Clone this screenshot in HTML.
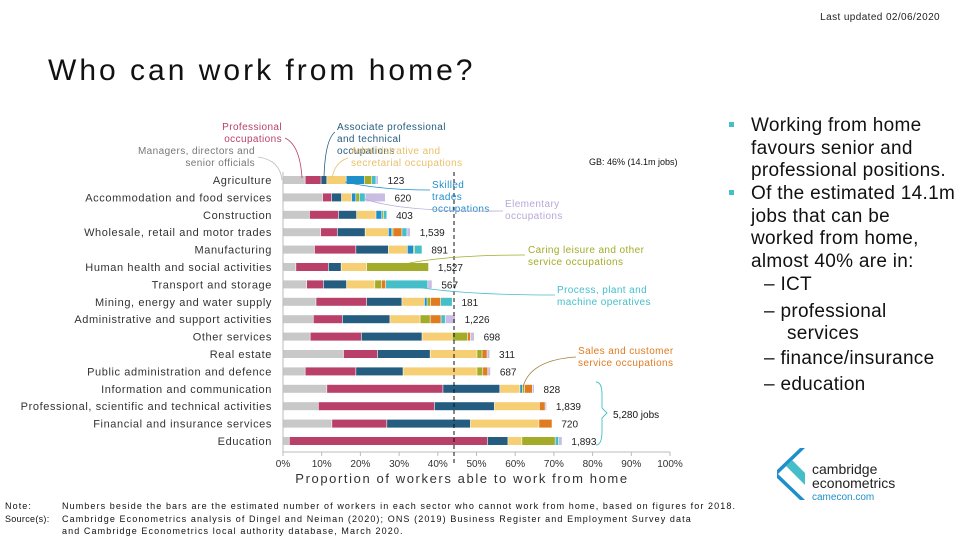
<!DOCTYPE html>
<html><head><meta charset="utf-8"><style>
body{margin:0;background:#fff;}
svg{display:block;font-family:"Liberation Sans",sans-serif;}
</style></head><body>
<svg id="chart" width="960" height="540" viewBox="0 0 960 540">
<text x="940" y="20" font-size="10" text-anchor="end" fill="#222" letter-spacing="0.4">Last updated 02/06/2020</text>
<text x="48" y="80" font-size="30" fill="#111" letter-spacing="3">Who can work from home?</text>
<g id="bars"></g>
<g id="axis"></g>
<text x="462" y="483" font-size="13" text-anchor="middle" fill="#333" letter-spacing="1.6">Proportion of workers able to work from home</text>
<line x1="454" y1="172" x2="454" y2="463" stroke="#111" stroke-dasharray="4,3"/>
<text x="589" y="165" font-size="9" fill="#111">GB: 46% (14.1m jobs)</text>
<g font-size="10" letter-spacing="0.4">
<text x="282" y="130" text-anchor="end" fill="#b94068"><tspan x="282">Professional</tspan><tspan x="282" dy="12">occupations</tspan></text>
<path d="M285 138 Q300 145 302 178" fill="none" stroke="#b94068" stroke-width="0.8"/>
<text x="255" y="154" text-anchor="end" fill="#777"><tspan x="255">Managers, directors and</tspan><tspan x="255" dy="12">senior officials</tspan></text>
<path d="M258 157 Q280 160 282 180" fill="none" stroke="#bbb" stroke-width="0.8"/>
<text x="337" y="130" fill="#255d80"><tspan x="337">Associate professional</tspan><tspan x="337" dy="12">and technical</tspan><tspan x="337" dy="12">occupations</tspan></text>
<path d="M335 132 Q325 140 324 178" fill="none" stroke="#255d80" stroke-width="0.8"/>
<text x="351" y="154" fill="#e9c06a"><tspan x="351">Administrative and</tspan><tspan x="351" dy="12">secretarial occupations</tspan></text>
<path d="M348 158 Q335 162 332 178" fill="none" stroke="#e9c06a" stroke-width="0.8"/>
<text x="432" y="188" fill="#1f8fc9"><tspan x="432">Skilled</tspan><tspan x="432" dy="12">trades</tspan><tspan x="432" dy="12">occupations</tspan></text>
<path d="M345 182 Q380 190 430 190" fill="none" stroke="#1f8fc9" stroke-width="0.8"/>
<text x="505" y="207" fill="#b8a9d6"><tspan x="505">Elementary</tspan><tspan x="505" dy="12">occupations</tspan></text>
<path d="M365 199 Q400 212 503 211" fill="none" stroke="#b8a9d6" stroke-width="0.8"/>
<text x="528" y="253" fill="#a2ac28"><tspan x="528">Caring leisure and other</tspan><tspan x="528" dy="12">service occupations</tspan></text>
<path d="M390 268 Q430 255 525 255" fill="none" stroke="#a2ac28" stroke-width="0.8"/>
<text x="557" y="293" fill="#44bfc9"><tspan x="557">Process, plant and</tspan><tspan x="557" dy="12">machine operatives</tspan></text>
<path d="M400 284 Q450 295 555 295" fill="none" stroke="#44bfc9" stroke-width="0.8"/>
<text x="578" y="354" fill="#e07b20"><tspan x="578">Sales and customer</tspan><tspan x="578" dy="12">service occupations</tspan></text>
<path d="M576 357 Q530 360 523 387" fill="none" stroke="#a08040" stroke-width="0.8"/>
</g>
<path d="M596 382 Q602 382 602 395 L602 408 L607 413 L602 418 L602 431 Q602 445 596 445" fill="none" stroke="#44bfc9" stroke-width="0.9"/>
<text x="613" y="418" font-size="10" fill="#111">5,280 jobs</text>
<g font-size="19" fill="#111" letter-spacing="0.3">
<rect x="729" y="122" width="5" height="5" fill="#44bfc9"/>
<text x="751" y="131">Working from home</text>
<text x="751" y="154">favours senior and</text>
<text x="751" y="176">professional positions.</text>
<rect x="729" y="190" width="5" height="5" fill="#44bfc9"/>
<text x="751" y="199">Of the estimated 14.1m</text>
<text x="751" y="222">jobs that can be</text>
<text x="751" y="244">worked from home,</text>
<text x="751" y="267">almost 40% are in:</text>
<text x="764" y="290">–  ICT</text>
<text x="764" y="317">–  professional</text>
<text x="787" y="339">services</text>
<text x="764" y="364">–  finance/insurance</text>
<text x="764" y="390">–  education</text>
</g>
<g>
<path d="M805 448 L778 474 L805 500 L800 500 L777 478 L777 470 L800 448 Z" fill="#1f8fc9"/>
<path d="M792 460 L786 466 L805 485 L805 473 Z" fill="#44bfc9"/>
<text x="812" y="474" font-size="14" fill="#222">cambridge</text>
<text x="812" y="488" font-size="14" fill="#222">econometrics</text>
<text x="812" y="500" font-size="10" fill="#1f8fc9">camecon.com</text>
</g>
<g font-size="9" fill="#111" letter-spacing="1.1">
<text x="5" y="509">Note:</text>
<text x="62" y="509">Numbers beside the bars are the estimated number of workers in each sector who cannot work from home, based on figures for 2018.</text>
<text x="5" y="522" letter-spacing="0.3">Source(s):</text>
<text x="62" y="522">Cambridge Econometrics analysis of Dingel and Neiman (2020); ONS (2019) Business Register and Employment Survey data</text>
<text x="62" y="534">and Cambridge Econometrics local authority database, March 2020.</text>
</g>
</svg>
<script>
const sectors=["Agriculture","Accommodation and food services","Construction","Wholesale, retail and motor trades","Manufacturing","Human health and social activities","Transport and storage","Mining, energy and water supply","Administrative and support activities","Other services","Real estate","Public administration and defence","Information and communication","Professional, scientific and technical activities","Financial and insurance services","Education"];
const cannotWork=["123","620","403","1,539","891","1,527","567","181","1,226","698","311","687","828","1,839","720","1,893"];
const managers=[5.8,10.3,6.9,9.8,8.2,3.4,6.2,8.6,7.9,7.1,15.7,5.8,11.4,9.2,12.7,1.7];
const professional=[4.1,2.3,7.5,4.3,10.7,8.4,4.3,13.1,7.5,13.2,8.8,13.1,30,30,14.2,51.2];
const associate=[1.5,2.6,4.7,7.2,8.4,3.3,6,9.1,12.3,15.7,13.6,12.2,14.7,15.5,21.6,5.3];
const admin=[5,2.6,5,6,4.9,6.6,7.3,5.8,7.8,7.8,12.1,19.1,5.2,11.6,17.7,3.6];
const skilled=[4.7,1.1,1.5,0.9,1.6,0,0,0.7,0,0,0,0,0.6,0,0,0];
const caring=[1.9,0.9,0.4,0.3,0.3,16,1.7,0.9,2.6,4,1.3,1.5,0.6,0,0,8.6];
const sales=[0,0,0,2.3,0,0,1.1,2.6,2.8,0.7,1.3,1.3,2,1.5,3.4,0];
const process=[1.1,1.5,0.9,1.3,1.9,0,10.9,3,1.1,0,0,0,0,0,0,0.9];
const elementary=[0.6,5.2,0,0.9,0,0,1.1,0,2.6,1,0.7,0.7,0.5,0.4,0,0.9];
const ticks=["0%","10%","20%","30%","40%","50%","60%","70%","80%","90%","100%"];
const series=[managers,professional,associate,admin,skilled,caring,sales,process,elementary];
const colors=["#c8c8c8","#b94068","#255d80","#f6cf75","#1f8fc9","#a2ac28","#e07b20","#44bfc9","#c9bde3"];
const NS="http://www.w3.org/2000/svg";
const x0=283,pw=387;
const xs=v=>x0+v/100*pw;
const ys=i=>180+i*17.4;
const bars=document.getElementById('bars');
const axis=document.getElementById('axis');
function mk(tag,attrs,parent){const e=document.createElementNS(NS,tag);for(const k in attrs)e.setAttribute(k,attrs[k]);parent.appendChild(e);return e;}
sectors.forEach((s,i)=>{
  const t=mk('text',{x:272,y:ys(i)+4,'font-size':11,'text-anchor':'end',fill:'#333','letter-spacing':0.6},bars);
  t.textContent=s;
  
  
  let cum=0;
  series.forEach((arr,k)=>{
    const v=arr[i];if(v<=0)return;
    const r=mk('rect',{x:xs(cum),y:ys(i)-4,width:Math.max(0,xs(cum+v)-xs(cum)-0.6),height:8,fill:colors[k]},bars);
    
    
    cum+=v;
  });
  const l=mk('text',{x:xs(cum)+9,y:ys(i)+4,'font-size':10,fill:'#222'},bars);
  l.textContent=cannotWork[i];
  
  
});
mk('line',{x1:x0,y1:172,x2:x0,y2:452,stroke:'#bbb'},axis);
mk('line',{x1:x0,y1:452,x2:x0+pw,y2:452,stroke:'#bbb'},axis);
ticks.forEach((tk,j)=>{
  const v=j*10;
  mk('line',{x1:xs(v),y1:452,x2:xs(v),y2:456,stroke:'#bbb'},axis);
  const t=mk('text',{x:xs(v),y:467,'font-size':10,'text-anchor':'middle',fill:'#333'},axis);
  t.textContent=tk;
  
  
});
</script>
</body></html>
